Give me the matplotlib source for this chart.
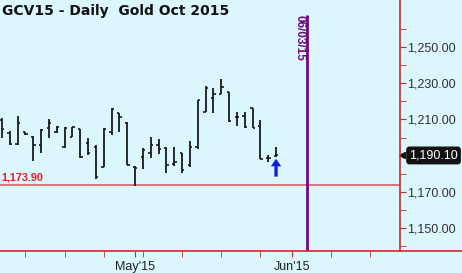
import matplotlib
matplotlib.use("Agg")
import matplotlib.pyplot as plt
from matplotlib.lines import Line2D

# ---- data ----
opens  = [1209.7, 1202.5, 1196.4, 1203.0, 1200.3, 1195.9, 1205.2, 1203.0, 1195.0, 1200.3,
          1204.7, 1197.0, 1194.8, 1183.7, 1203.0, 1213.5, 1208.0, 1183.7, 1189.2, 1191.4,
          1195.9, 1194.2, 1185.4, 1191.4, 1184.8, 1194.8, 1214.1, 1221.8, 1224.0, 1225.1,
          1211.3, 1211.9, 1216.3, 1206.4, 1188.7, 1190.0]
highs  = [1210.8, 1203.6, 1211.9, 1203.0, 1200.8, 1204.7, 1210.2, 1206.4, 1205.8, 1205.8,
          1204.7, 1199.7, 1195.9, 1205.2, 1216.3, 1213.5, 1208.6, 1184.3, 1194.2, 1200.3,
          1199.2, 1194.8, 1194.8, 1191.4, 1198.1, 1220.7, 1228.5, 1227.3, 1232.3, 1225.1,
          1214.1, 1214.1, 1216.3, 1209.7, 1190.3, 1194.8]
lows   = [1199.7, 1195.9, 1195.9, 1201.4, 1187.0, 1191.4, 1199.7, 1202.5, 1194.2, 1200.3,
          1188.7, 1190.3, 1177.1, 1183.7, 1201.4, 1203.0, 1184.8, 1173.2, 1182.6, 1188.7,
          1190.9, 1180.4, 1184.3, 1180.4, 1183.7, 1193.6, 1214.1, 1213.5, 1224.0, 1208.6,
          1206.4, 1205.2, 1205.2, 1188.1, 1186.5, 1189.2]
closes = [1204.7, 1196.4, 1208.0, 1201.9, 1195.9, 1204.1, 1208.0, 1205.8, 1205.0, 1205.8,
          1189.2, 1191.4, 1178.0, 1204.7, 1215.8, 1211.3, 1184.8, 1183.1, 1193.1, 1195.9,
          1193.6, 1184.8, 1186.5, 1182.0, 1194.8, 1220.7, 1227.3, 1224.0, 1228.0, 1209.1,
          1211.3, 1205.8, 1205.2, 1188.1, 1188.7, 1190.1]
support_level = 1173.90
last_price = 1190.10
marker_label = "06/03/15"
marker_index = 39
arrow_index = 35
arrow_from, arrow_to = 1178.4, 1188.3
month_labels = ["May'15", "Jun'15"]
month_index = [17, 37]
week_index = [3, 8, 13, 18, 23, 28, 33, 42, 47]
ytick_vals = [1150, 1170, 1210, 1230, 1250]
yminor_vals = [1140, 1160, 1180, 1190, 1200, 1220, 1240, 1260]
title = "GCV15 - Daily  Gold Oct 2015"

BG = "#dcf6fd"
RED = "#cc2a2a"
AR = "Liberation Sans"

fig = plt.figure(figsize=(4.62, 2.73), dpi=100, facecolor=BG)
ax = fig.add_axes([0.0, 1 - 251/273, 400/462, 251/273])
ax.set_facecolor(BG)

# OHLC bars
for i, (o, h, l, c) in enumerate(zip(opens, highs, lows, closes)):
    ax.vlines(i, l, h, color="#1a1a1a", lw=1.3)
    ax.hlines(o, i - 0.3, i, color="#1a1a1a", lw=1.2)
    ax.hlines(c, i, i + 0.3, color="#1a1a1a", lw=1.2)

ax.set_xlim(-0.255, 50.83)
ax.set_ylim(1137.3, 1276.0)

# support line
ax.axhline(support_level, color="#d87474", lw=1.4, zorder=1)
ax.text(-0.05, support_level + 1.3, f"{support_level:,.2f}", color="#e02020",
        fontsize=7.8, fontweight="bold", family=AR, ha="left", va="bottom")

# vertical date marker
ax.vlines(marker_index, ax.get_ylim()[0], 1267.7, color="#6e0a7e", lw=2, zorder=3)
ax.text(marker_index - 0.2, 1267.5, marker_label, color="#6e0a7e", fontsize=8.5,
        fontweight="bold", family=AR, rotation=270, ha="right", va="top")

# arrow
ax.annotate("", xy=(arrow_index, arrow_to), xytext=(arrow_index, arrow_from),
            arrowprops=dict(arrowstyle="simple,head_width=0.75,head_length=0.55,tail_width=0.24",
                            color="#0a22dd", lw=0, mutation_scale=10,
                            shrinkA=0, shrinkB=0))

# spines
for s in ["top", "left", "bottom"]:
    ax.spines[s].set_visible(False)
ax.spines["right"].set_color(RED)
ax.spines["right"].set_linewidth(1.2)

# x axis line across full width
fig.add_artist(Line2D([0, 1], [1 - 251/273, 1 - 251/273], color=RED, lw=1.2,
                      transform=fig.transFigure))

ax.yaxis.tick_right()
ax.set_yticks(ytick_vals)
ax.set_yticklabels([f"{v:,.2f}" for v in ytick_vals], family=AR)
ax.set_yticks(yminor_vals, minor=True)
ax.tick_params(axis="y", which="both", direction="out", length=4, color=RED,
               labelsize=9, labelcolor="#303030", pad=1)

ax.set_xticks(month_index)
ax.set_xticklabels(month_labels, family=AR)
ax.set_xticks(week_index, minor=True)
ax.tick_params(axis="x", which="both", direction="out", length=4, color=RED,
               labelsize=9, labelcolor="#202020", pad=3)

# last price tag
ax.plot([51.05], [last_price], marker="<", ms=4, color="#111111", clip_on=False)
ax.text(52.0, last_price, f"{last_price:,.2f}", color="white", fontsize=9, family=AR,
        ha="left", va="center", clip_on=False,
        bbox=dict(boxstyle="round,pad=0.18,rounding_size=0.2", fc="#111111", ec="#111111"))

fig.text(2/462, 1 - 4/273, title, fontsize=10, fontweight="bold", color="#111111",
         ha="left", va="top")

fig.savefig("out.png", dpi=100, facecolor=BG)
